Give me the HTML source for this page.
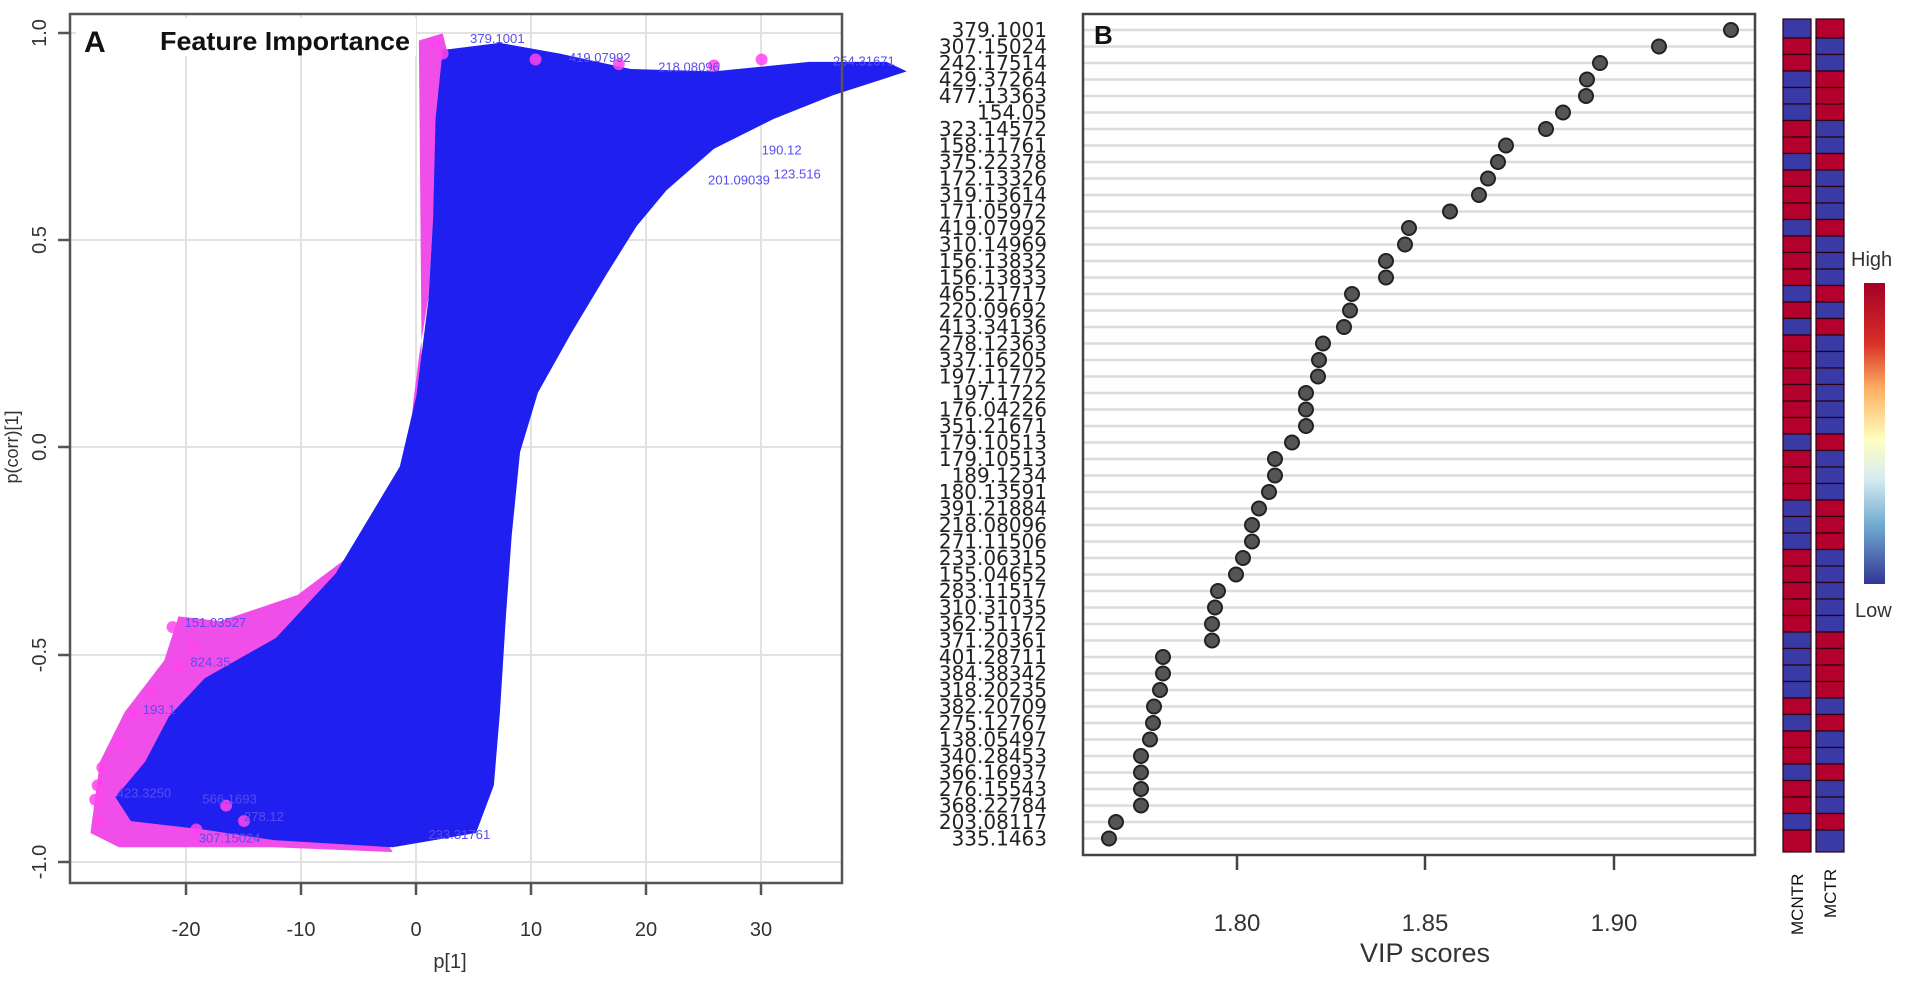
<!DOCTYPE html>
<html><head><meta charset="utf-8"><style>
html,body{margin:0;padding:0;background:#fff;}
svg{display:block;}
</style></head><body>
<svg width="1911" height="984" viewBox="0 0 1911 984" xmlns="http://www.w3.org/2000/svg" font-family="Liberation Sans, sans-serif">
<!-- ============ PANEL A ============ -->
<g stroke="#e2e2e2" stroke-width="2">
<line x1="186" y1="14" x2="186" y2="883"/><line x1="301" y1="14" x2="301" y2="883"/>
<line x1="416" y1="14" x2="416" y2="883"/><line x1="531" y1="14" x2="531" y2="883"/>
<line x1="646" y1="14" x2="646" y2="883"/><line x1="761" y1="14" x2="761" y2="883"/>
<line x1="70" y1="33" x2="842" y2="33"/><line x1="70" y1="240" x2="842" y2="240"/>
<line x1="70" y1="447" x2="842" y2="447"/><line x1="70" y1="655" x2="842" y2="655"/>
<line x1="70" y1="862" x2="842" y2="862"/>
</g>
<g transform="scale(1.19)">
<polygon fill="#f04ee8" points="352,34 372,28 380,60 366,150 360,250 352,300 347,340 344,380 342,420 320,445 290,470 250,500 185,522 150,518 138,555 105,598 84,640 76,700 100,712 160,712 230,712 330,716 320,700 355,380"/>
<polygon fill="#1f1ff0" points="372,42 420,36 470,45 530,58 600,60 680,52 745,52 762,60 700,80 650,100 600,125 560,160 535,190 510,230 480,280 452,330 437,380 430,450 425,520 420,600 415,660 400,700 330,712 230,706 170,697 110,690 97,670 122,640 142,602 172,570 232,536 282,482 312,432 336,392 350,332 360,252 364,182 366,100"/>
<g fill="#ff44ee" opacity="0.85">
<circle cx="145" cy="527" r="5"/><circle cx="162" cy="543" r="5"/><circle cx="150" cy="560" r="5"/><circle cx="128" cy="582" r="5"/><circle cx="112" cy="600" r="5"/><circle cx="100" cy="625" r="5"/><circle cx="86" cy="645" r="5"/><circle cx="82" cy="660" r="5"/><circle cx="80" cy="672" r="5"/><circle cx="84" cy="690" r="5"/><circle cx="190" cy="677" r="5"/><circle cx="205" cy="690" r="5"/><circle cx="165" cy="697" r="5"/>
<circle cx="365" cy="36" r="5"/><circle cx="372" cy="45" r="5"/><circle cx="450" cy="50" r="5"/><circle cx="520" cy="54" r="5"/><circle cx="600" cy="55" r="5"/><circle cx="640" cy="50" r="5"/>
</g>
<g fill="#5a4cf0" font-size="11">
<text x="395" y="36">379.1001</text><text x="478" y="52">419.07992</text><text x="553" y="60">218.08096</text><text x="700" y="55">254.31671</text>
<text x="155" y="527">151.03527</text><text x="98" y="670">423.3250</text><text x="170" y="675">566.1693</text>
<text x="205" y="690">278.12</text><text x="167" y="708">307.15024</text><text x="360" y="705">233.31761</text>
<text x="640" y="130">190.12</text><text x="650" y="150">123.516</text><text x="595" y="155">201.09039</text>
<text x="160" y="560">824.35</text><text x="120" y="600">193.1</text>
</g>
</g>
<rect x="70" y="14" width="772" height="869" fill="none" stroke="#555" stroke-width="2.5"/>
<g stroke="#555" stroke-width="2.5">
<line x1="186" y1="883" x2="186" y2="895"/><line x1="301" y1="883" x2="301" y2="895"/><line x1="416" y1="883" x2="416" y2="895"/>
<line x1="531" y1="883" x2="531" y2="895"/><line x1="646" y1="883" x2="646" y2="895"/><line x1="761" y1="883" x2="761" y2="895"/>
<line x1="58" y1="33" x2="70" y2="33"/><line x1="58" y1="240" x2="70" y2="240"/><line x1="58" y1="447" x2="70" y2="447"/>
<line x1="58" y1="655" x2="70" y2="655"/><line x1="58" y1="862" x2="70" y2="862"/>
</g>
<g fill="#333" font-size="20" text-anchor="middle">
<text x="186" y="936">-20</text><text x="301" y="936">-10</text><text x="416" y="936">0</text>
<text x="531" y="936">10</text><text x="646" y="936">20</text><text x="761" y="936">30</text>
<text x="450" y="968">p[1]</text>
<text transform="translate(46,33) rotate(-90)">1.0</text>
<text transform="translate(46,240) rotate(-90)">0.5</text>
<text transform="translate(46,447) rotate(-90)">0.0</text>
<text transform="translate(46,655) rotate(-90)">-0.5</text>
<text transform="translate(46,862) rotate(-90)">-1.0</text>
<text transform="translate(18,447) rotate(-90)" font-size="18">p(corr)[1]</text>
</g>
<rect x="76" y="18" width="340" height="38" fill="#fff"/>
<text x="84" y="52" font-size="30" font-weight="bold" fill="#111">A</text>
<text x="160" y="50" font-size="26" font-weight="bold" fill="#111" textLength="250" lengthAdjust="spacingAndGlyphs">Feature Importance</text>

<!-- ============ PANEL B ============ -->
<g stroke="#dcdcdc" stroke-width="2.5">
<line x1="1083" y1="30" x2="1755" y2="30"/><line x1="1083" y1="46.5" x2="1755" y2="46.5"/><line x1="1083" y1="63" x2="1755" y2="63"/><line x1="1083" y1="79.5" x2="1755" y2="79.5"/><line x1="1083" y1="96" x2="1755" y2="96"/><line x1="1083" y1="112.5" x2="1755" y2="112.5"/><line x1="1083" y1="129" x2="1755" y2="129"/><line x1="1083" y1="145.5" x2="1755" y2="145.5"/><line x1="1083" y1="162" x2="1755" y2="162"/><line x1="1083" y1="178.5" x2="1755" y2="178.5"/>
<line x1="1083" y1="195" x2="1755" y2="195"/><line x1="1083" y1="211.5" x2="1755" y2="211.5"/><line x1="1083" y1="228" x2="1755" y2="228"/><line x1="1083" y1="244.5" x2="1755" y2="244.5"/><line x1="1083" y1="261" x2="1755" y2="261"/><line x1="1083" y1="277.5" x2="1755" y2="277.5"/><line x1="1083" y1="294" x2="1755" y2="294"/><line x1="1083" y1="310.5" x2="1755" y2="310.5"/><line x1="1083" y1="327" x2="1755" y2="327"/><line x1="1083" y1="343.5" x2="1755" y2="343.5"/>
<line x1="1083" y1="360" x2="1755" y2="360"/><line x1="1083" y1="376.5" x2="1755" y2="376.5"/><line x1="1083" y1="393" x2="1755" y2="393"/><line x1="1083" y1="409.5" x2="1755" y2="409.5"/><line x1="1083" y1="426" x2="1755" y2="426"/><line x1="1083" y1="442.5" x2="1755" y2="442.5"/><line x1="1083" y1="459" x2="1755" y2="459"/><line x1="1083" y1="475.5" x2="1755" y2="475.5"/><line x1="1083" y1="492" x2="1755" y2="492"/><line x1="1083" y1="508.5" x2="1755" y2="508.5"/>
<line x1="1083" y1="525" x2="1755" y2="525"/><line x1="1083" y1="541.5" x2="1755" y2="541.5"/><line x1="1083" y1="558" x2="1755" y2="558"/><line x1="1083" y1="574.5" x2="1755" y2="574.5"/><line x1="1083" y1="591" x2="1755" y2="591"/><line x1="1083" y1="607.5" x2="1755" y2="607.5"/><line x1="1083" y1="624" x2="1755" y2="624"/><line x1="1083" y1="640.5" x2="1755" y2="640.5"/><line x1="1083" y1="657" x2="1755" y2="657"/><line x1="1083" y1="673.5" x2="1755" y2="673.5"/>
<line x1="1083" y1="690" x2="1755" y2="690"/><line x1="1083" y1="706.5" x2="1755" y2="706.5"/><line x1="1083" y1="723" x2="1755" y2="723"/><line x1="1083" y1="739.5" x2="1755" y2="739.5"/><line x1="1083" y1="756" x2="1755" y2="756"/><line x1="1083" y1="772.5" x2="1755" y2="772.5"/><line x1="1083" y1="789" x2="1755" y2="789"/><line x1="1083" y1="805.5" x2="1755" y2="805.5"/><line x1="1083" y1="822" x2="1755" y2="822"/><line x1="1083" y1="838.5" x2="1755" y2="838.5"/>
</g>
<rect x="1083" y="14" width="672" height="841" fill="none" stroke="#444" stroke-width="2.5"/>
<g fill="#555" stroke="#222" stroke-width="2">
<circle cx="1731" cy="30" r="7"/><circle cx="1659" cy="46.5" r="7"/><circle cx="1600" cy="63" r="7"/><circle cx="1587" cy="79.5" r="7"/><circle cx="1586" cy="96" r="7"/><circle cx="1563" cy="112.5" r="7"/><circle cx="1546" cy="129" r="7"/><circle cx="1506" cy="145.5" r="7"/><circle cx="1498" cy="162" r="7"/><circle cx="1488" cy="178.5" r="7"/>
<circle cx="1479" cy="195" r="7"/><circle cx="1450" cy="211.5" r="7"/><circle cx="1409" cy="228" r="7"/><circle cx="1405" cy="244.5" r="7"/><circle cx="1386" cy="261" r="7"/><circle cx="1386" cy="277.5" r="7"/><circle cx="1352" cy="294" r="7"/><circle cx="1350" cy="310.5" r="7"/><circle cx="1344" cy="327" r="7"/><circle cx="1323" cy="343.5" r="7"/>
<circle cx="1319" cy="360" r="7"/><circle cx="1318" cy="376.5" r="7"/><circle cx="1306" cy="393" r="7"/><circle cx="1306" cy="409.5" r="7"/><circle cx="1306" cy="426" r="7"/><circle cx="1292" cy="442.5" r="7"/><circle cx="1275" cy="459" r="7"/><circle cx="1275" cy="475.5" r="7"/><circle cx="1269" cy="492" r="7"/><circle cx="1259" cy="508.5" r="7"/>
<circle cx="1252" cy="525" r="7"/><circle cx="1252" cy="541.5" r="7"/><circle cx="1243" cy="558" r="7"/><circle cx="1236" cy="574.5" r="7"/><circle cx="1218" cy="591" r="7"/><circle cx="1215" cy="607.5" r="7"/><circle cx="1212" cy="624" r="7"/><circle cx="1212" cy="640.5" r="7"/><circle cx="1163" cy="657" r="7"/><circle cx="1163" cy="673.5" r="7"/>
<circle cx="1160" cy="690" r="7"/><circle cx="1154" cy="706.5" r="7"/><circle cx="1153" cy="723" r="7"/><circle cx="1150" cy="739.5" r="7"/><circle cx="1141" cy="756" r="7"/><circle cx="1141" cy="772.5" r="7"/><circle cx="1141" cy="789" r="7"/><circle cx="1141" cy="805.5" r="7"/><circle cx="1116" cy="822" r="7"/><circle cx="1109" cy="838.5" r="7"/>
</g>
<g font-family="DejaVu Sans, sans-serif" font-size="20" fill="#222" text-anchor="end">
<text x="1047" y="37">379.1001</text><text x="1047" y="53.5">307.15024</text><text x="1047" y="70">242.17514</text><text x="1047" y="86.5">429.37264</text><text x="1047" y="103">477.13363</text><text x="1047" y="119.5">154.05</text><text x="1047" y="136">323.14572</text><text x="1047" y="152.5">158.11761</text><text x="1047" y="169">375.22378</text><text x="1047" y="185.5">172.13326</text>
<text x="1047" y="202">319.13614</text><text x="1047" y="218.5">171.05972</text><text x="1047" y="235">419.07992</text><text x="1047" y="251.5">310.14969</text><text x="1047" y="268">156.13832</text><text x="1047" y="284.5">156.13833</text><text x="1047" y="301">465.21717</text><text x="1047" y="317.5">220.09692</text><text x="1047" y="334">413.34136</text><text x="1047" y="350.5">278.12363</text>
<text x="1047" y="367">337.16205</text><text x="1047" y="383.5">197.11772</text><text x="1047" y="400">197.1722</text><text x="1047" y="416.5">176.04226</text><text x="1047" y="433">351.21671</text><text x="1047" y="449.5">179.10513</text><text x="1047" y="466">179.10513</text><text x="1047" y="482.5">189.1234</text><text x="1047" y="499">180.13591</text><text x="1047" y="515.5">391.21884</text>
<text x="1047" y="532">218.08096</text><text x="1047" y="548.5">271.11506</text><text x="1047" y="565">233.06315</text><text x="1047" y="581.5">155.04652</text><text x="1047" y="598">283.11517</text><text x="1047" y="614.5">310.31035</text><text x="1047" y="631">362.51172</text><text x="1047" y="647.5">371.20361</text><text x="1047" y="664">401.28711</text><text x="1047" y="680.5">384.38342</text>
<text x="1047" y="697">318.20235</text><text x="1047" y="713.5">382.20709</text><text x="1047" y="730">275.12767</text><text x="1047" y="746.5">138.05497</text><text x="1047" y="763">340.28453</text><text x="1047" y="779.5">366.16937</text><text x="1047" y="796">276.15543</text><text x="1047" y="812.5">368.22784</text><text x="1047" y="829">203.08117</text><text x="1047" y="845.5">335.1463</text>
</g>
<g stroke="#444" stroke-width="2.5">
<line x1="1237" y1="855" x2="1237" y2="870"/><line x1="1425" y1="855" x2="1425" y2="870"/><line x1="1614" y1="855" x2="1614" y2="870"/>
</g>
<g fill="#333" font-size="24" text-anchor="middle">
<text x="1237" y="931">1.80</text><text x="1425" y="931">1.85</text><text x="1614" y="931">1.90</text>
<text x="1425" y="962" font-size="27">VIP scores</text>
</g>
<text x="1094" y="44" font-size="26" font-weight="bold" fill="#111">B</text>

<!-- heatmap -->
<g stroke="#2a0010" stroke-width="1.2">
<rect x="1783" y="19" width="28" height="19" fill="#3a3aa6"/><rect x="1816" y="19" width="28" height="19" fill="#b4002c"/>
<rect x="1783" y="38" width="28" height="16.5" fill="#b4002c"/><rect x="1816" y="38" width="28" height="16.5" fill="#3a3aa6"/>
<rect x="1783" y="54.5" width="28" height="16.5" fill="#b4002c"/><rect x="1816" y="54.5" width="28" height="16.5" fill="#3a3aa6"/>
<rect x="1783" y="71" width="28" height="16.5" fill="#3a3aa6"/><rect x="1816" y="71" width="28" height="16.5" fill="#b4002c"/>
<rect x="1783" y="87.5" width="28" height="16.5" fill="#3a3aa6"/><rect x="1816" y="87.5" width="28" height="16.5" fill="#b4002c"/>
<rect x="1783" y="104" width="28" height="16.5" fill="#3a3aa6"/><rect x="1816" y="104" width="28" height="16.5" fill="#b4002c"/>
<rect x="1783" y="120.5" width="28" height="16.5" fill="#b4002c"/><rect x="1816" y="120.5" width="28" height="16.5" fill="#3a3aa6"/>
<rect x="1783" y="137" width="28" height="16.5" fill="#b4002c"/><rect x="1816" y="137" width="28" height="16.5" fill="#3a3aa6"/>
<rect x="1783" y="153.5" width="28" height="16.5" fill="#3a3aa6"/><rect x="1816" y="153.5" width="28" height="16.5" fill="#b4002c"/>
<rect x="1783" y="170" width="28" height="16.5" fill="#b4002c"/><rect x="1816" y="170" width="28" height="16.5" fill="#3a3aa6"/>
<rect x="1783" y="186.5" width="28" height="16.5" fill="#b4002c"/><rect x="1816" y="186.5" width="28" height="16.5" fill="#3a3aa6"/>
<rect x="1783" y="203" width="28" height="16.5" fill="#b4002c"/><rect x="1816" y="203" width="28" height="16.5" fill="#3a3aa6"/>
<rect x="1783" y="219.5" width="28" height="16.5" fill="#3a3aa6"/><rect x="1816" y="219.5" width="28" height="16.5" fill="#b4002c"/>
<rect x="1783" y="236" width="28" height="16.5" fill="#b4002c"/><rect x="1816" y="236" width="28" height="16.5" fill="#3a3aa6"/>
<rect x="1783" y="252.5" width="28" height="16.5" fill="#b4002c"/><rect x="1816" y="252.5" width="28" height="16.5" fill="#3a3aa6"/>
<rect x="1783" y="269" width="28" height="16.5" fill="#b4002c"/><rect x="1816" y="269" width="28" height="16.5" fill="#3a3aa6"/>
<rect x="1783" y="285.5" width="28" height="16.5" fill="#3a3aa6"/><rect x="1816" y="285.5" width="28" height="16.5" fill="#b4002c"/>
<rect x="1783" y="302" width="28" height="16.5" fill="#b4002c"/><rect x="1816" y="302" width="28" height="16.5" fill="#3a3aa6"/>
<rect x="1783" y="318.5" width="28" height="16.5" fill="#3a3aa6"/><rect x="1816" y="318.5" width="28" height="16.5" fill="#b4002c"/>
<rect x="1783" y="335" width="28" height="16.5" fill="#b4002c"/><rect x="1816" y="335" width="28" height="16.5" fill="#3a3aa6"/>
<rect x="1783" y="351.5" width="28" height="16.5" fill="#b4002c"/><rect x="1816" y="351.5" width="28" height="16.5" fill="#3a3aa6"/>
<rect x="1783" y="368" width="28" height="16.5" fill="#b4002c"/><rect x="1816" y="368" width="28" height="16.5" fill="#3a3aa6"/>
<rect x="1783" y="384.5" width="28" height="16.5" fill="#b4002c"/><rect x="1816" y="384.5" width="28" height="16.5" fill="#3a3aa6"/>
<rect x="1783" y="401" width="28" height="16.5" fill="#b4002c"/><rect x="1816" y="401" width="28" height="16.5" fill="#3a3aa6"/>
<rect x="1783" y="417.5" width="28" height="16.5" fill="#b4002c"/><rect x="1816" y="417.5" width="28" height="16.5" fill="#3a3aa6"/>
<rect x="1783" y="434" width="28" height="16.5" fill="#3a3aa6"/><rect x="1816" y="434" width="28" height="16.5" fill="#b4002c"/>
<rect x="1783" y="450.5" width="28" height="16.5" fill="#b4002c"/><rect x="1816" y="450.5" width="28" height="16.5" fill="#3a3aa6"/>
<rect x="1783" y="467" width="28" height="16.5" fill="#b4002c"/><rect x="1816" y="467" width="28" height="16.5" fill="#3a3aa6"/>
<rect x="1783" y="483.5" width="28" height="16.5" fill="#b4002c"/><rect x="1816" y="483.5" width="28" height="16.5" fill="#3a3aa6"/>
<rect x="1783" y="500" width="28" height="16.5" fill="#3a3aa6"/><rect x="1816" y="500" width="28" height="16.5" fill="#b4002c"/>
<rect x="1783" y="516.5" width="28" height="16.5" fill="#3a3aa6"/><rect x="1816" y="516.5" width="28" height="16.5" fill="#b4002c"/>
<rect x="1783" y="533" width="28" height="16.5" fill="#3a3aa6"/><rect x="1816" y="533" width="28" height="16.5" fill="#b4002c"/>
<rect x="1783" y="549.5" width="28" height="16.5" fill="#b4002c"/><rect x="1816" y="549.5" width="28" height="16.5" fill="#3a3aa6"/>
<rect x="1783" y="566" width="28" height="16.5" fill="#b4002c"/><rect x="1816" y="566" width="28" height="16.5" fill="#3a3aa6"/>
<rect x="1783" y="582.5" width="28" height="16.5" fill="#b4002c"/><rect x="1816" y="582.5" width="28" height="16.5" fill="#3a3aa6"/>
<rect x="1783" y="599" width="28" height="16.5" fill="#b4002c"/><rect x="1816" y="599" width="28" height="16.5" fill="#3a3aa6"/>
<rect x="1783" y="615.5" width="28" height="16.5" fill="#b4002c"/><rect x="1816" y="615.5" width="28" height="16.5" fill="#3a3aa6"/>
<rect x="1783" y="632" width="28" height="16.5" fill="#3a3aa6"/><rect x="1816" y="632" width="28" height="16.5" fill="#b4002c"/>
<rect x="1783" y="648.5" width="28" height="16.5" fill="#3a3aa6"/><rect x="1816" y="648.5" width="28" height="16.5" fill="#b4002c"/>
<rect x="1783" y="665" width="28" height="16.5" fill="#3a3aa6"/><rect x="1816" y="665" width="28" height="16.5" fill="#b4002c"/>
<rect x="1783" y="681.5" width="28" height="16.5" fill="#3a3aa6"/><rect x="1816" y="681.5" width="28" height="16.5" fill="#b4002c"/>
<rect x="1783" y="698" width="28" height="16.5" fill="#b4002c"/><rect x="1816" y="698" width="28" height="16.5" fill="#3a3aa6"/>
<rect x="1783" y="714.5" width="28" height="16.5" fill="#3a3aa6"/><rect x="1816" y="714.5" width="28" height="16.5" fill="#b4002c"/>
<rect x="1783" y="731" width="28" height="16.5" fill="#b4002c"/><rect x="1816" y="731" width="28" height="16.5" fill="#3a3aa6"/>
<rect x="1783" y="747.5" width="28" height="16.5" fill="#b4002c"/><rect x="1816" y="747.5" width="28" height="16.5" fill="#3a3aa6"/>
<rect x="1783" y="764" width="28" height="16.5" fill="#3a3aa6"/><rect x="1816" y="764" width="28" height="16.5" fill="#b4002c"/>
<rect x="1783" y="780.5" width="28" height="16.5" fill="#b4002c"/><rect x="1816" y="780.5" width="28" height="16.5" fill="#3a3aa6"/>
<rect x="1783" y="797" width="28" height="16.5" fill="#b4002c"/><rect x="1816" y="797" width="28" height="16.5" fill="#3a3aa6"/>
<rect x="1783" y="813.5" width="28" height="16.5" fill="#3a3aa6"/><rect x="1816" y="813.5" width="28" height="16.5" fill="#b4002c"/>
<rect x="1783" y="830" width="28" height="22" fill="#b4002c"/><rect x="1816" y="830" width="28" height="22" fill="#3a3aa6"/>
</g>
<g fill="#111" font-size="17">
<text transform="translate(1803,935) rotate(-90)">MCNTR</text>
<text transform="translate(1836,918) rotate(-90)">MCTR</text>
</g>
<defs><linearGradient id="cb" x1="0" y1="0" x2="0" y2="1">
<stop offset="0" stop-color="#a50026"/><stop offset="0.2" stop-color="#d73027"/><stop offset="0.35" stop-color="#fdae61"/>
<stop offset="0.52" stop-color="#ffffbf"/><stop offset="0.65" stop-color="#d6ecf2"/><stop offset="0.8" stop-color="#74add1"/>
<stop offset="1" stop-color="#313695"/></linearGradient></defs>
<rect x="1864" y="283" width="21" height="301" fill="url(#cb)"/>
<text x="1851" y="266" font-size="20" fill="#333">High</text>
<text x="1855" y="617" font-size="20" fill="#333">Low</text>
</svg>
</body></html>
